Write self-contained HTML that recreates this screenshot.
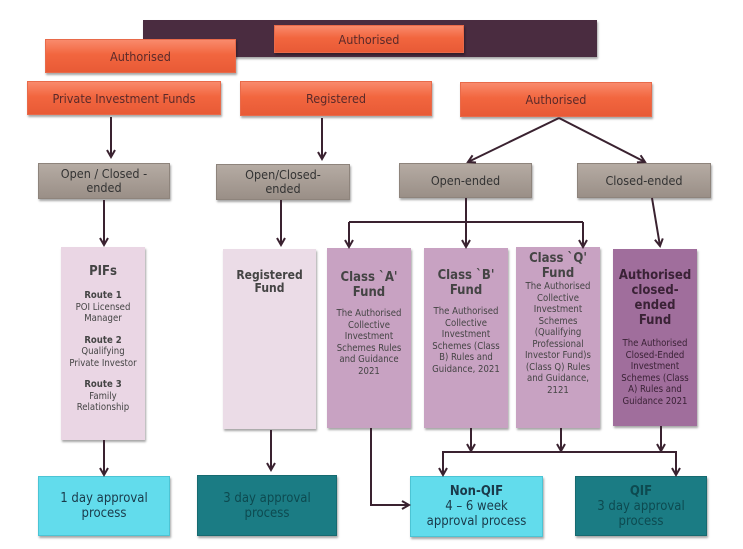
<!DOCTYPE html>
<html><head><style>
body{margin:0;width:743px;height:549px;background:#fff;position:relative;overflow:hidden;font-family:"DejaVu Sans Condensed","Liberation Sans",sans-serif;}
.b{position:absolute;box-sizing:border-box;display:flex;align-items:center;justify-content:center;text-align:center;box-shadow:1px 2px 2px rgba(0,0,0,.35);}
.o{background:linear-gradient(#f98a6c,#f2663f 45%,#e85a36);color:#5a2a2a;font-size:12.5px;border:1px solid #e86a4a;}
.g{background:linear-gradient(#b5aba3,#9a8f87);color:#333;font-size:12.5px;line-height:14px;border:1px solid #8e847c;}
.t{flex-direction:column;justify-content:flex-start;color:#444;font-size:9.5px;line-height:11.5px;padding-left:7px;padding-right:7px;}
.c{background:#62dcec;color:#1a3a4a;font-size:13px;line-height:15px;border:1px solid #4cc4d4;flex-direction:column;}
.d{background:#1b7c84;color:#0d4a50;font-size:13px;line-height:15px;border:1px solid #166a70;flex-direction:column;}
</style></head><body>
<div class="b" style="left:143px;top:20px;width:454px;height:37px;background:#4a2c40;"></div>
<div class="b o" style="left:274px;top:25px;width:190px;height:28px;">Authorised</div>
<div class="b o" style="left:45px;top:39px;width:191px;height:34px;">Authorised</div>
<div class="b o" style="left:27px;top:81px;width:194px;height:34px;">Private Investment Funds</div>
<div class="b o" style="left:240px;top:81px;width:192px;height:35px;">Registered</div>
<div class="b o" style="left:460px;top:82px;width:192px;height:35px;">Authorised</div>
<div class="b g" style="left:38px;top:163px;width:132px;height:36px;">Open / Closed -<br>ended</div>
<div class="b g" style="left:216px;top:164px;width:134px;height:36px;">Open/Closed-<br>ended</div>
<div class="b g" style="left:399px;top:163px;width:133px;height:35px;">Open-ended</div>
<div class="b g" style="left:577px;top:163px;width:134px;height:35px;">Closed-ended</div>

<div class="b t" style="left:61px;top:247px;width:84px;height:193px;background:#ead6e4;padding-top:17px;"><b style="font-size:13px;line-height:16px">PIFs</b><div style="height:10px"></div><b>Route 1</b>POI Licensed Manager<div style="height:10px"></div><b>Route 2</b>Qualifying Private Investor<div style="height:10px"></div><b>Route 3</b>Family Relationship</div>
<div class="b t" style="left:223px;top:249px;width:93px;height:180px;background:#ebdce7;padding-top:20px;"><b style="font-size:12px;line-height:13px">Registered<br>Fund</b></div>
<div class="b t" style="left:327px;top:248px;width:84px;height:180px;background:#c8a2c2;padding-top:22px;"><b style="font-size:13px;line-height:15px">Class `A'<br>Fund</b><div style="height:8px"></div>The Authorised Collective Investment Schemes Rules and Guidance 2021</div>
<div class="b t" style="left:424px;top:248px;width:84px;height:180px;background:#c8a2c2;padding-top:20px;"><b style="font-size:13px;line-height:15px">Class `B'<br>Fund</b><div style="height:8px"></div>The Authorised Collective Investment Schemes (Class B) Rules and Guidance, 2021</div>
<div class="b t" style="left:516px;top:247px;width:84px;height:181px;background:#c8a2c2;padding-top:4px;"><b style="font-size:13px;line-height:15px">Class `Q'<br>Fund</b>The Authorised Collective Investment Schemes (Qualifying Professional Investor Fund)s (Class Q) Rules and Guidance, 2121</div>
<div class="b t" style="left:613px;top:249px;width:84px;height:177px;background:#a06e9c;padding-top:19px;color:#3a2236"><b style="font-size:13px;line-height:15px">Authorised closed-<br>ended<br>Fund</b><div style="height:10px"></div>The Authorised Closed-Ended Investment Schemes (Class A) Rules and Guidance 2021</div>

<div class="b c" style="left:38px;top:476px;width:132px;height:60px;">1 day approval<br>process</div>
<div class="b d" style="left:197px;top:475px;width:140px;height:61px;">3 day approval<br>process</div>
<div class="b c" style="left:410px;top:476px;width:133px;height:61px;"><b>Non-QIF</b>4 – 6 week<br>approval process</div>
<div class="b d" style="left:575px;top:476px;width:132px;height:60px;"><b>QIF</b>3 day approval<br>process</div>

<svg width="743" height="549" style="position:absolute;left:0;top:0" fill="none" stroke="#3a2230" stroke-width="2">
<defs><marker id="a" markerWidth="10" markerHeight="10" refX="8" refY="5" orient="auto" markerUnits="userSpaceOnUse"><path d="M1,1 L8,5 L1,9" stroke="#3a2230" stroke-width="2" fill="none"/></marker></defs>
<path d="M111,117 V157" marker-end="url(#a)"/>
<path d="M322,118 V159" marker-end="url(#a)"/>
<path d="M559,118 L468,162" marker-end="url(#a)"/>
<path d="M559,118 L645,162" marker-end="url(#a)"/>
<path d="M104,200 V245" marker-end="url(#a)"/>
<path d="M281,200 V245" marker-end="url(#a)"/>
<path d="M466,198 V222 M349,222 H583"/>
<path d="M349,222 V247" marker-end="url(#a)"/>
<path d="M466,222 V247" marker-end="url(#a)"/>
<path d="M583,222 V247" marker-end="url(#a)"/>
<path d="M652,198 L660,246" marker-end="url(#a)"/>
<path d="M104,440 V475" marker-end="url(#a)"/>
<path d="M271,430 V470" marker-end="url(#a)"/>
<path d="M371,428 V505 H409" marker-end="url(#a)"/>
<path d="M471,428 V451" marker-end="url(#a)"/>
<path d="M561,428 V451" marker-end="url(#a)"/>
<path d="M661,426 V451" marker-end="url(#a)"/>
<path d="M443,475 V452 H676 V475" />
<path d="M443,460 V475" marker-end="url(#a)"/>
<path d="M676,460 V475" marker-end="url(#a)"/>
</svg>
</body></html>
